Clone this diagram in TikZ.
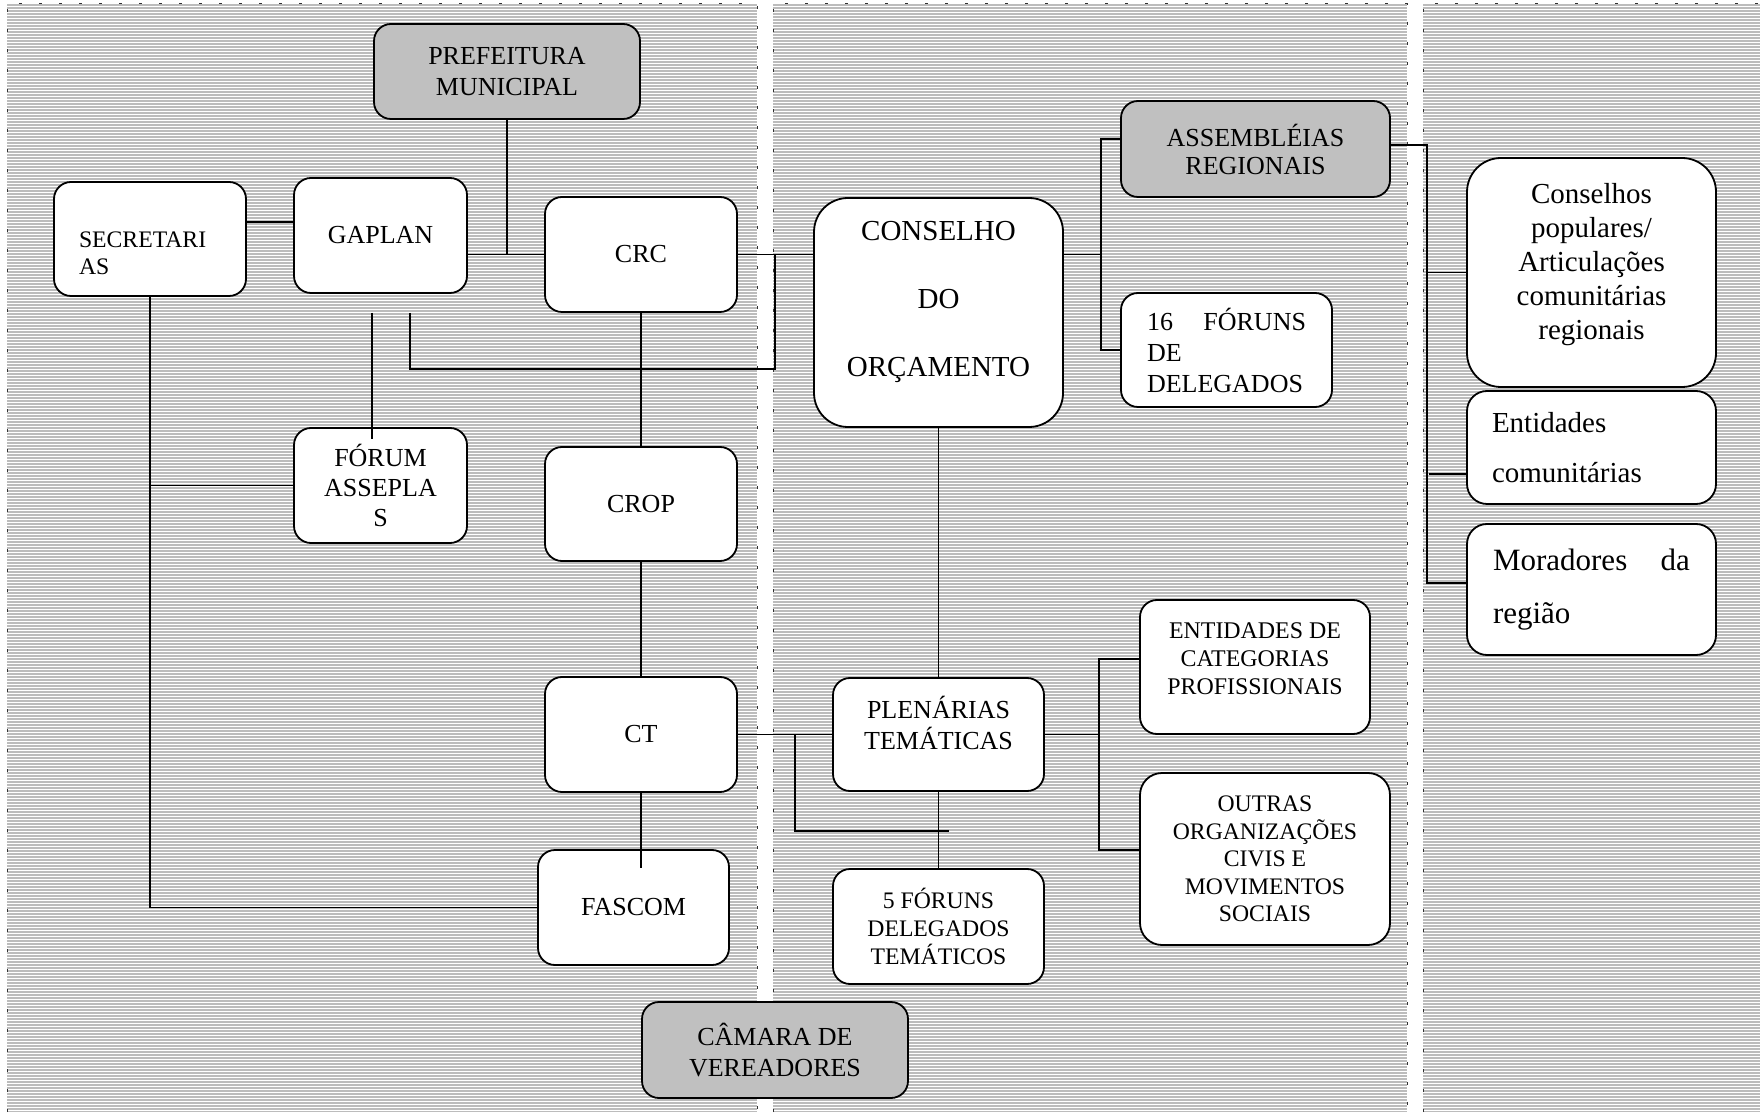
\documentclass[tikz,border=0pt]{standalone}
\usepackage{fontspec}
\setmainfont{Liberation Serif}
\usetikzlibrary{calc}
\definecolor{panelgray}{RGB}{188,188,188}
\definecolor{boxgray}{RGB}{192,192,192}
\definecolor{rulegray}{RGB}{50,50,50}

\begin{document}
\begin{tikzpicture}[x=1pt, y=1pt,
    box/.style={draw, line width=1.8pt, rounded corners=17pt, fill=white, inner sep=0pt,
        align=center, font=\fontsize{26}{31}\selectfont},
    bigbox/.style={box, rounded corners=34pt},
    shaded/.style={box, fill=boxgray},
    txt/.style={inner sep=0pt, align=center, font=\fontsize{26}{31}\selectfont},
    link/.style={line width=1.6pt},
    border/.style={rulegray, line width=1pt, dash pattern=on 3pt off 17pt}]

    \useasboundingbox (0,0) rectangle (1760,1112);

    % striped panels
    \fill[panelgray] (7,0) rectangle (757,1108);
    \fill[panelgray] (773,0) rectangle (1407,1108);
    \fill[panelgray] (1423,0) rectangle (1760,1108);
    \foreach \k in {0,...,369} {
        \draw[white, line width=0.75pt] (0,1105.5-3*\k) -- (1760,1105.5-3*\k);
    }
    \draw[border] (7,0) |- (757,1108) -- (757,0);
    \draw[border] (773,0) |- (1407,1108) -- (1407,0);
    \draw[border] (1423,0) |- (1760,1108);

    % left panel
    \node[shaded, minimum width=266pt, minimum height=95pt] (pref) at (507,1040.5) {PREFEITURA\\MUNICIPAL};
    \node[box, minimum width=192pt, minimum height=114pt] (sec) at (150,873) {};
    \node[txt, text width=142pt, align=left, font=\fontsize{23.7}{27}\selectfont] (secT)
        at ([yshift=-14pt]sec.center) {SECRETARI\\AS};
    \node[box, minimum width=173pt, minimum height=115pt] (gap) at (380.5,876.5) {GAPLAN};
    \node[box, minimum width=192pt, minimum height=115pt] (crc) at (641,857.5) {CRC};
    \node[box, minimum width=173pt, minimum height=115pt, font=\fontsize{26}{30}\selectfont] (asep)
        at (380.5,626.5) {FÓRUM\\ASSEPLA\\S};
    \node[box, minimum width=192pt, minimum height=114pt] (crop) at (641,608) {CROP};
    \node[box, minimum width=192pt, minimum height=115pt] (ct) at (641,377.5) {CT};
    \node[box, minimum width=191pt, minimum height=115pt] (fascom) at (633.5,204.5) {FASCOM};

    % middle panel
    \node[bigbox, minimum width=249pt, minimum height=229pt] (cons) at (938.5,799.5) {};
    \node[txt, font=\fontsize{29}{68}\selectfont] (consT) at ([yshift=10.5pt]cons.center)
        {CONSELHO\\DO\\ORÇAMENTO};
    \node[shaded, minimum width=269pt, minimum height=96pt, font=\fontsize{26}{28}\selectfont] (assem)
        at (1255.5,963) {ASSEMBLÉIAS\\REGIONAIS};
    \node[box, minimum width=211pt, minimum height=114pt, text width=159pt, align=left] (f16)
        at (1226.5,762) {16\hfill FÓRUNS\\DE\\DELEGADOS};
    \node[box, minimum width=211pt, minimum height=113pt] (plen) at (938.5,377.5) {};
    \node[txt] (plenT) at ([yshift=12pt]plen.center) {PLENÁRIAS\\TEMÁTICAS};
    \node[box, minimum width=211pt, minimum height=115pt, font=\fontsize{23.7}{28}\selectfont] (f5)
        at (938.5,185.5) {5 FÓRUNS\\DELEGADOS\\TEMÁTICOS};
    \node[box, minimum width=230pt, minimum height=134pt] (entcat) at (1255,445) {};
    \node[txt, font=\fontsize{23.9}{28}\selectfont] (entcatT) at ([yshift=8pt]entcat.center)
        {ENTIDADES DE\\CATEGORIAS\\PROFISSIONAIS};
    \node[box, rounded corners=22pt, minimum width=250pt, minimum height=172pt,
        font=\fontsize{23.7}{27.5}\selectfont] (outras)
        at (1265,253) {OUTRAS\\ORGANIZAÇÕES\\CIVIS E\\MOVIMENTOS\\SOCIAIS};
    \node[shaded, minimum width=266pt, minimum height=96pt] (camara) at (775,62) {CÂMARA DE\\VEREADORES};

    % right panel
    \node[bigbox, minimum width=249pt, minimum height=229pt] (conpop) at (1591.5,839.5) {};
    \node[txt, font=\fontsize{29}{34}\selectfont] (conpopT) at ([yshift=7.5pt]conpop.center)
        {Conselhos\\populares/\\Articulações\\comunitárias\\regionais};
    \node[box, rounded corners=20pt, minimum width=249pt, minimum height=113pt, text width=199pt,
        align=left, font=\fontsize{29}{50}\selectfont] (entcom)
        at (1591.5,664.5) {Entidades\\comunitárias};
    \node[box, rounded corners=20pt, minimum width=249pt, minimum height=131pt, text width=197pt,
        align=left, font=\fontsize{31}{53}\selectfont] (morad)
        at (1591.5,522.5) {Moradores\hfill da\\região};

    % left links
    \draw[link] ([yshift=17pt]sec.east) -- ([yshift=17pt]sec.east -| gap.west);
    \draw[link] (gap.east |- crc.west) -- (crc.west);
    \draw[link] (pref.south) -- (pref.south |- crc.west);
    \draw[link] (crc.east) -- (crc.east -| cons.west);
    \coordinate (loopB) at (775,743);
    \draw[link] ([xshift=29.5pt,yshift=-19pt]gap.south) |- (loopB) -- (loopB |- crc.east);
    \draw[link] ([xshift=-8.5pt,yshift=-19pt]gap.south) -- ([xshift=-8.5pt,yshift=-12pt]asep.north);
    \draw[link] (crc.south) -- (crop.north);
    \draw[link] (crop.south) -- (ct.north);
    \draw[link] (ct.south) -- ([yshift=-19pt]ct.south |- fascom.north);
    \draw[link] (sec.south) |- (fascom.west);
    \draw[link] (asep.west) -- (asep.west -| sec.south);

    % middle links
    \draw[link] (cons.south) -- (plen.north);
    \draw[link] (ct.east) -- (plen.west);
    \draw[link] ([xshift=57pt]ct.east) |- ([xshift=10.5pt,yshift=-39pt]plen.south);
    \draw[link] (plen.south) -- (f5.north);
    \draw[link] (crc.east -| cons.east) -- ([xshift=-19pt]f16.west |- crc.east);
    \draw[link] ([yshift=10pt]assem.west) -| ([xshift=-19pt]f16.west) -- (f16.west);
    \draw[link] (plen.east) -- ([xshift=-40pt]entcat.west |- plen.east);
    \draw[link] ([yshift=8pt]entcat.west) -| ([xshift=-40pt,yshift=9pt]outras.west) -- ([yshift=9pt]outras.west);

    % right links
    \draw[link] ([yshift=4pt]assem.east) -| ([xshift=-39pt,yshift=6.5pt]morad.west) -- ([yshift=6.5pt]morad.west);
    \draw[link] ([xshift=-39pt]conpop.west) -- (conpop.west);
    \draw[link] ([xshift=-37pt,yshift=-26.5pt]entcom.west) -- ([yshift=-26.5pt]entcom.west);

\end{tikzpicture}
\end{document}
